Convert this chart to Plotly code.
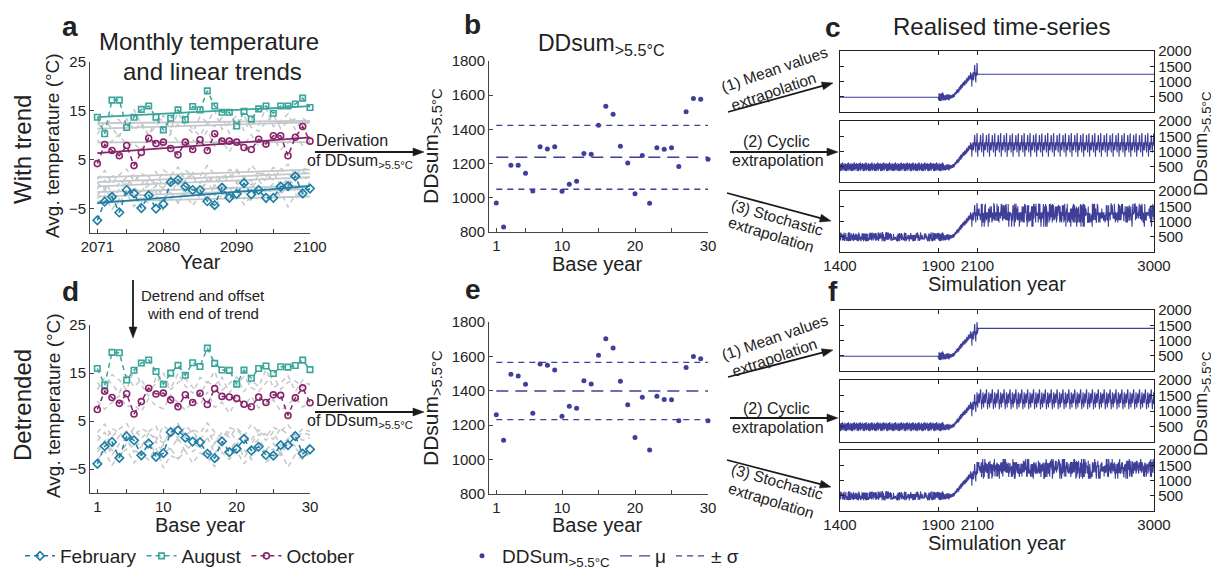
import plotly.graph_objects as go
import numpy as np

# page offset of the figure inside the browser window (default body margin)
OFF = 8
W, H = 1219 - OFF, 569 - OFF
FONT = "Liberation Sans, Arial, sans-serif"
TXT = "#222222"

# ---------------- data ----------------
years = list(range(2071, 2101))
base_years = list(range(1, 31))

feb = [-7.4, -3.6, -2.6, -5.8, -1.2, -1.9, -4.9, -2.3, -5.0, -4.1, 0.4, 0.9, -0.5, -1.2, -1.2,
       -3.5, -4.3, -0.7, -2.8, -2.0, 0.2, -2.1, -1.2, -2.8, -2.8, -0.5, -0.4, 1.6, -1.9, -0.9]
aug = [13.7, 10.3, 17.2, 17.2, 11.6, 13.7, 15.3, 16.0, 13.7, 11.1, 13.5, 15.2, 13.2, 15.9, 15.2,
       19.1, 16.0, 14.7, 14.7, 11.9, 14.9, 13.3, 15.4, 16.0, 14.5, 16.0, 16.0, 16.4, 17.6, 15.7]
octo = [4.2, 8.1, 6.9, 5.8, 7.9, 3.8, 6.5, 9.4, 8.3, 8.6, 7.3, 6.0, 8.6, 7.1, 9.1,
        6.9, 10.3, 8.8, 8.8, 8.6, 7.5, 7.1, 9.2, 8.2, 9.9, 9.9, 5.8, 9.6, 11.8, 8.8]

gray_jul = [12.5, 10.8, 14.2, 13.1, 11.0, 15.3, 12.2, 9.8, 13.7, 12.9, 11.4, 14.6, 12.0, 10.5, 13.8,
            12.7, 15.1, 11.2, 12.6, 14.0, 10.9, 13.3, 12.1, 15.6, 11.8, 12.9, 14.4, 11.1, 13.5, 12.4]
gray_jun = [10.2, 12.8, 11.5, 9.6, 13.4, 11.0, 12.6, 10.1, 11.9, 14.1, 10.7, 12.2, 13.0, 11.3, 9.9,
            12.5, 11.8, 13.6, 10.4, 12.1, 13.9, 11.6, 10.8, 12.7, 14.2, 11.4, 12.9, 13.3, 11.9, 12.8]
gray_sep = [9.1, 7.4, 8.8, 10.2, 7.9, 8.3, 6.9, 9.6, 8.1, 7.5, 10.4, 8.7, 7.2, 9.0, 8.4,
            11.0, 7.8, 8.9, 6.6, 9.3, 8.0, 10.1, 7.7, 8.6, 9.4, 7.1, 8.5, 9.8, 7.9, 8.8]
gray_may = [1.0, 2.8, 0.2, 1.9, 3.1, 0.6, 2.2, 1.4, -0.3, 2.9, 1.8, 3.5, 0.9, 2.4, 1.6,
            3.8, 2.0, 0.7, 3.0, 2.6, 1.2, 3.9, 2.3, 1.5, 3.4, 2.7, 4.1, 1.9, 3.3, 2.8]
gray_nov = [0.3, -1.2, 1.8, 0.9, -0.4, 2.1, 0.0, 1.5, 2.6, -0.8, 1.1, 0.4, 2.9, 1.7, 0.2,
            2.3, -0.5, 1.9, 1.0, 3.0, 1.4, 0.6, 2.7, 1.8, 0.9, 3.2, 2.0, 1.3, 2.5, 2.1]
gray_apr = [-1.0, 0.8, -2.1, 0.2, 1.3, -0.7, -1.8, 1.0, 0.1, -0.9, 1.6, -0.3, 0.7, 2.0, -1.4,
            0.5, 1.4, -0.6, 2.2, 0.3, 1.1, -0.2, 1.8, 0.6, 2.4, -0.4, 1.2, 2.0, 0.9, 1.5]
gray_dec = [-2.2, -0.5, -3.4, -1.0, 0.3, -2.6, -1.4, -0.2, -3.0, -0.9, -1.8, 0.6, -2.1, -0.6, -1.2,
            1.0, -2.4, -0.1, -1.5, 0.4, -3.1, -0.7, 0.9, -1.3, 0.1, -2.0, 1.1, -0.4, -1.6, 0.5]
gray_mar = [-3.0, -1.1, -2.5, -4.3, -0.8, -2.0, -3.6, -1.5, -0.4, -2.8, -1.7, -3.9, -0.9, -2.2, -1.0,
            -3.3, -0.2, -1.9, -2.7, -0.6, -1.4, -3.5, -0.3, -1.8, -1.1, -2.4, 0.2, -0.8, -2.1, 0.3]
gray_jan = [-4.1, -2.3, -5.2, -3.0, -1.8, -4.6, -2.7, -3.9, -1.4, -5.5, -2.9, -3.6, -1.9, -4.4, -2.2,
            -3.1, -5.0, -2.0, -3.4, -1.6, -4.2, -2.5, -1.2, -3.8, -2.6, -1.5, -4.7, -2.1, -3.0, -1.7]

dd_trend = [970, 829, 1191, 1191, 1144, 1040, 1298, 1286, 1298, 1038, 1079, 1097, 1259, 1255, 1425,
            1536, 1489, 1302, 1204, 1023, 1247, 968, 1292, 1284, 1292, 1183, 1503, 1581, 1577, 1226]
dd_detr = [1261, 1112, 1496, 1486, 1438, 1269, 1556, 1548, 1521, 1252, 1310, 1298, 1459, 1440, 1606,
           1703, 1649, 1455, 1319, 1128, 1362, 1056, 1368, 1350, 1348, 1226, 1536, 1600, 1587, 1226]

# historical DDsum 1901-2070 (2071-2100 = dd_trend)
hist_years = list(range(1901, 2071))
hist_dd = [450, 560, 390, 500, 620, 420, 360, 530, 470, 590,
           410, 510, 350, 560, 460, 610, 380, 500, 430, 580,
           470, 400, 640, 440, 370, 520, 600, 410, 490, 440,
           510, 390, 470, 560, 420, 500, 380, 540, 460, 410,
           490, 570, 400, 470, 530, 430, 510, 450, 590, 400,
           500, 430, 540, 470, 380, 570, 450, 520, 420, 530,
           470, 540, 440, 495, 560, 450, 515, 475, 545, 490,
           505, 460, 570, 495, 535, 470, 590, 520, 480, 560,
           540, 600, 505, 575, 630, 550, 600, 660, 575, 625,
           650, 595, 690, 620, 720, 660, 610, 745, 690, 650,
           720, 660, 770, 700, 640, 800, 740, 690, 830, 760,
           790, 720, 850, 770, 880, 810, 740, 900, 830, 790,
           850, 920, 800, 880, 950, 840, 900, 980, 860, 930,
           880, 970, 900, 1010, 940, 870, 1040, 950, 990, 910,
           980, 1060, 950, 1090, 1010, 940, 1120, 1030, 1080, 990,
           1060, 1140, 1010, 1180, 1090, 1030, 1200, 1110, 1160, 1070,
           1120, 1250, 1080, 1190, 1300, 1150, 1070, 1260, 1180, 1230]

# resampling index sequences used for the stochastic extrapolation
stoch_a = [17, 4, 22, 9, 28, 1, 13, 25, 6, 19, 11, 0, 27, 15, 8, 21, 3, 29, 12, 24, 5, 18, 10, 26, 2,
           16, 23, 7, 20, 14, 1, 27, 9, 13, 22, 4, 29, 11, 18, 6, 25, 0, 16, 21, 8, 3, 28, 12, 19, 24,
           5, 15, 26, 10, 2, 23, 7, 17, 14, 20, 27]
stoch_b = [3, 11, 0, 7, 19, 25, 2, 14, 9, 22, 5, 17, 28, 1, 12, 20, 6, 26, 15, 8, 23, 4, 18, 10, 29,
           13, 21, 16, 27, 24, 3, 9, 0, 14, 6, 19, 11]

# tick labels
year_ticks = [2071, 2080, 2090, 2100]
year_minor = [2075, 2085, 2095]
by_ticks = [1, 10, 20, 30]
by_minor = [5, 15, 25]
temp_ticks = [-5, 5, 15, 25]
temp_text = ["−5", "5", "15", "25"]
dd_ticks = [800, 1000, 1200, 1400, 1600, 1800]
sim_ticks = [1400, 1900, 2100, 3000]
ts_ticks = [500, 1000, 1500, 2000]

# ---------------- colours ----------------
C_FEB = "#1c7ea4"
C_AUG = "#3aa59b"
C_OCT = "#87236a"
C_GRAY = "#c4c8ca"
C_DD = "#3f3f9a"
C_ARROW = "#1a1a1a"

fig = go.Figure()

gray_all = [gray_jul, gray_jun, gray_sep, gray_may, gray_nov, gray_apr, gray_dec, gray_mar, gray_jan]
colored = [("February", feb, C_FEB, "diamond-open", 6.5),
           ("August", aug, C_AUG, "square-open", 5.5),
           ("October", octo, C_OCT, "circle-open", 6)]

yr = np.array(years, dtype=float)


def detrend(vals):
    p = np.polyfit(yr, vals, 1)
    return np.array(vals) - np.polyval(p, yr) + np.polyval(p, 2100.0)


DASH = "5px,4px"

for g in gray_all:
    fig.add_trace(go.Scatter(x=years, y=g, mode="lines", line=dict(color=C_GRAY, width=1.5, dash=DASH),
                             showlegend=False, hoverinfo="skip", xaxis="x", yaxis="y"))
    fig.add_trace(go.Scatter(x=base_years, y=detrend(g), mode="lines",
                             line=dict(color=C_GRAY, width=1.5, dash=DASH),
                             showlegend=False, hoverinfo="skip", xaxis="x2", yaxis="y2"))
for g in gray_all:
    p = np.polyfit(yr, g, 1)
    fig.add_trace(go.Scatter(x=[2071, 2100], y=np.polyval(p, [2071, 2100]), mode="lines",
                             line=dict(color=C_GRAY, width=1.8), showlegend=False, hoverinfo="skip",
                             xaxis="x", yaxis="y"))

for name, vals, col, sym, ms in colored:
    p = np.polyfit(yr, vals, 1)
    fig.add_trace(go.Scatter(x=[2071, 2100], y=np.polyval(p, [2071, 2100]), mode="lines",
                             line=dict(color=col, width=1.7), showlegend=False, hoverinfo="skip",
                             xaxis="x", yaxis="y"))
for name, vals, col, sym, ms in colored:
    mk = dict(symbol=sym, size=ms, color=col, line=dict(width=1.6, color=col))
    fig.add_trace(go.Scatter(x=years, y=vals, mode="lines+markers", name=name,
                             line=dict(color=col, width=1.5, dash=DASH), marker=mk,
                             cliponaxis=False, showlegend=True, legend="legend", xaxis="x", yaxis="y"))
    fig.add_trace(go.Scatter(x=base_years, y=detrend(vals), mode="lines+markers", name=name,
                             line=dict(color=col, width=1.5, dash=DASH), marker=mk,
                             cliponaxis=False, showlegend=False, xaxis="x2", yaxis="y2"))

# panels b & e
for vals, xa, ya, show in [(dd_trend, "x3", "y3", True), (dd_detr, "x4", "y4", False)]:
    m = float(np.mean(vals))
    s = float(np.std(vals, ddof=1))
    fig.add_trace(go.Scatter(x=base_years, y=vals, mode="markers", name="DDSum<sub>&gt;5.5°C</sub>",
                             marker=dict(size=5, color=C_DD), cliponaxis=False,
                             showlegend=show, legend="legend2", xaxis=xa, yaxis=ya))
    fig.add_trace(go.Scatter(x=[1, 30], y=[m, m], mode="lines", name="μ",
                             line=dict(color=C_DD, width=1.4, dash="12px,7px"),
                             showlegend=show, legend="legend2", xaxis=xa, yaxis=ya))
    fig.add_trace(go.Scatter(x=[1, 30, None, 1, 30], y=[m + s, m + s, None, m - s, m - s], mode="lines",
                             name="± σ", line=dict(color=C_DD, width=1.4, dash="6px,5px"),
                             showlegend=show, legend="legend2", xaxis=xa, yaxis=ya))

# panels c & f: realised time series
base30 = hist_dd[:30]
pre_years = list(range(1400, 1901))
post_years = list(range(2101, 3001))
hist_full = hist_dd + dd_trend
all_years = pre_years + hist_years + years + post_years


def stoch(vals, n):
    return [vals[(stoch_a[k % len(stoch_a)] + stoch_b[k % len(stoch_b)]) % 30] for k in range(n)]


pre_cyc = [base30[(y - 1901) % 30] for y in pre_years]
pre_mean = [float(np.mean(base30))] * len(pre_years)
pre_sto = stoch(base30, len(pre_years))

for dd, axes in [(dd_trend, ["5", "6", "7"]), (dd_detr, ["8", "9", "10"])]:
    post_mean = [float(np.mean(dd))] * len(post_years)
    post_cyc = [dd[(y - 2101) % 30] for y in post_years]
    post_sto = stoch(dd[::-1], len(post_years))
    series = [pre_mean + hist_full + post_mean,
              pre_cyc + hist_full + post_cyc,
              pre_sto + hist_full + post_sto]
    for ys, a in zip(series, axes):
        fig.add_trace(go.Scatter(x=all_years, y=ys, mode="lines", line=dict(color=C_DD, width=1.1),
                                 showlegend=False, hoverinfo="skip", xaxis="x" + a, yaxis="y" + a))

# ---------------- axes (positions given in window pixels) ----------------


def px(x):
    return (x - OFF) / W


def py(y):
    return 1 - (y - OFF) / H


def dx(l, r):
    return [px(l), px(r)]


def dy(t, b):
    return [py(b), py(t)]


base_ax = dict(showgrid=False, zeroline=False, showline=True, linecolor="#444", linewidth=1,
               ticks="inside", ticklen=4, tickcolor="#444", automargin=False,
               tickfont=dict(size=15, color=TXT, family=FONT))


def minor(vals, color="#444"):
    return dict(tickvals=vals, ticks="inside", ticklen=4, tickcolor=color, showgrid=False)


lay = dict(
    xaxis=dict(base_ax, domain=dx(90, 310), range=[2070, 2100], anchor="y",
               tickvals=year_ticks, minor=minor(year_minor)),
    yaxis=dict(base_ax, domain=dy(62, 233), range=[-10, 25], anchor="x",
               tickvals=temp_ticks, ticktext=temp_text),
    xaxis2=dict(base_ax, domain=dx(90, 310), range=[0, 30], anchor="y2",
                tickvals=by_ticks, minor=minor(by_minor)),
    yaxis2=dict(base_ax, domain=dy(325, 493), range=[-10, 25], anchor="x2",
                tickvals=temp_ticks, ticktext=temp_text),
    xaxis3=dict(base_ax, domain=dx(489, 708), range=[0, 30], anchor="y3",
                tickvals=by_ticks, minor=minor(by_minor)),
    yaxis3=dict(base_ax, domain=dy(61, 232), range=[800, 1800], anchor="x3", tickvals=dd_ticks),
    xaxis4=dict(base_ax, domain=dx(489, 708), range=[0, 30], anchor="y4",
                tickvals=by_ticks, minor=minor(by_minor)),
    yaxis4=dict(base_ax, domain=dy(322, 494), range=[800, 1800], anchor="x4", tickvals=dd_ticks),
)

ts_rows = {"5": (51, 112), "6": (121, 182), "7": (191, 252),
           "8": (310, 371), "9": (380, 442), "10": (450, 511)}
for a, (t, b) in ts_rows.items():
    xa = dict(base_ax, domain=dx(840, 1154), range=[1400, 3000], anchor="y" + a,
              linecolor="#222", linewidth=1.3, mirror="ticks", tickcolor="#222")
    if a in ("7", "10"):
        xa.update(tickvals=sim_ticks)
    else:
        xa.update(tickvals=[], minor=minor(sim_ticks, "#222"))
    lay["xaxis" + a] = xa
    lay["yaxis" + a] = dict(base_ax, domain=dy(t, b), range=[0, 2000], anchor="x" + a, side="right",
                            linecolor="#222", linewidth=1.3, mirror="ticks", tickcolor="#222",
                            tickvals=ts_ticks)

# ---------------- annotations & arrows ----------------


def txt(x, y, s, size, angle=0):
    return dict(x=px(x), y=py(y), xref="paper", yref="paper", text=s, showarrow=False,
                font=dict(size=size, color=TXT, family=FONT), textangle=angle,
                xanchor="center", yanchor="middle")


shapes = []


def arrow(x0, y0, x1, y1, head_len=11, head_w=8):
    vx, vy = x1 - x0, y1 - y0
    ln = (vx * vx + vy * vy) ** 0.5
    ux, uy = vx / ln, vy / ln
    nx, ny = -uy, ux
    bx, by = x1 - ux * head_len, y1 - uy * head_len
    shapes.append(dict(type="line", xref="paper", yref="paper",
                       x0=px(x0), y0=py(y0), x1=px(bx + ux * 2), y1=py(by + uy * 2),
                       line=dict(color=C_ARROW, width=1.8)))
    c1 = (bx + nx * head_w / 2, by + ny * head_w / 2)
    c2 = (bx - nx * head_w / 2, by - ny * head_w / 2)
    path = "M {:.5f},{:.5f} L {:.5f},{:.5f} L {:.5f},{:.5f} Z".format(
        px(x1), py(y1), px(c1[0]), py(c1[1]), px(c2[0]), py(c2[1]))
    shapes.append(dict(type="path", xref="paper", yref="paper", path=path,
                       fillcolor=C_ARROW, line=dict(color=C_ARROW, width=0.5)))


SUB = "<sub>&gt;5.5°C</sub>"
ann = [
    txt(70, 27, "<b>a</b>", 28), txt(472, 24, "<b>b</b>", 28), txt(833, 28, "<b>c</b>", 28),
    txt(70, 291, "<b>d</b>", 28), txt(473, 289, "<b>e</b>", 28), txt(833, 291, "<b>f</b>", 28),
    txt(209, 42, "Monthly temperature", 24), txt(212, 71, "and linear trends", 24),
    txt(601, 45, "DDsum" + SUB, 23),
    txt(1001, 27, "Realised time-series", 24),
    txt(22, 150, "With trend", 24, -90), txt(52, 146, "Avg. temperature (°C)", 19, -90),
    txt(22, 405, "Detrended", 24, -90), txt(53, 406, "Avg. temperature (°C)", 19, -90),
    txt(200, 262, "Year", 20), txt(200, 525, "Base year", 20),
    txt(597, 264, "Base year", 20), txt(597, 525, "Base year", 20),
    txt(997, 284, "Simulation year", 20), txt(997, 543, "Simulation year", 20),
    txt(432, 146, "DDsum" + SUB, 21, -90), txt(432, 408, "DDsum" + SUB, 21, -90),
    txt(1202, 144, "DDsum" + SUB, 19, -90), txt(1202, 404, "DDsum" + SUB, 19, -90),
    txt(203, 295, "Detrend and offset", 15), txt(203, 313, "with end of trend", 15),
    txt(352, 140, "Derivation", 16), txt(360, 161, "of DDsum" + SUB, 16),
    txt(352, 400, "Derivation", 16), txt(360, 421, "of DDsum" + SUB, 16),
    txt(774, 70, "(1) Mean values", 15.5, -19), txt(773, 91, "extrapolation", 15.5, -19),
    txt(776, 141, "(2) Cyclic", 16), txt(778, 160, "extrapolation", 16),
    txt(777, 217, "(3) Stochastic", 15.5, 16), txt(771, 234, "extrapolation", 15.5, 17),
    txt(774, 337, "(1) Mean values", 15.5, -19), txt(774, 357, "extrapolation", 15.5, -19),
    txt(776, 408, "(2) Cyclic", 16), txt(778, 427, "extrapolation", 16),
    txt(777, 481, "(3) Stochastic", 15.5, 16), txt(771, 500, "extrapolation", 15.5, 17),
]

arrow(133, 280, 133, 338)
arrow(315, 152, 424, 152)
arrow(315, 412, 424, 412)
arrow(728, 112, 833, 83)
arrow(730, 152, 838, 152)
arrow(727, 193, 831, 221)
arrow(728, 377, 833, 350)
arrow(730, 418, 838, 418)
arrow(727, 460, 831, 487)

fig.update_layout(
    width=W, height=H, margin=dict(l=0, r=0, t=0, b=0, autoexpand=False),
    paper_bgcolor="white", plot_bgcolor="white",
    font=dict(family=FONT, color=TXT),
    annotations=ann, shapes=shapes,
    legend=dict(orientation="h", x=px(20), y=py(556), xanchor="left", yanchor="middle",
                font=dict(size=19, color=TXT, family=FONT), bgcolor="rgba(0,0,0,0)",
                itemwidth=30, tracegroupgap=0),
    legend2=dict(orientation="h", x=px(462), y=py(556), xanchor="left", yanchor="middle",
                 font=dict(size=19, color=TXT, family=FONT), bgcolor="rgba(0,0,0,0)",
                 itemwidth=30, tracegroupgap=0),
    **lay,
)

fig.write_html("out.html")
